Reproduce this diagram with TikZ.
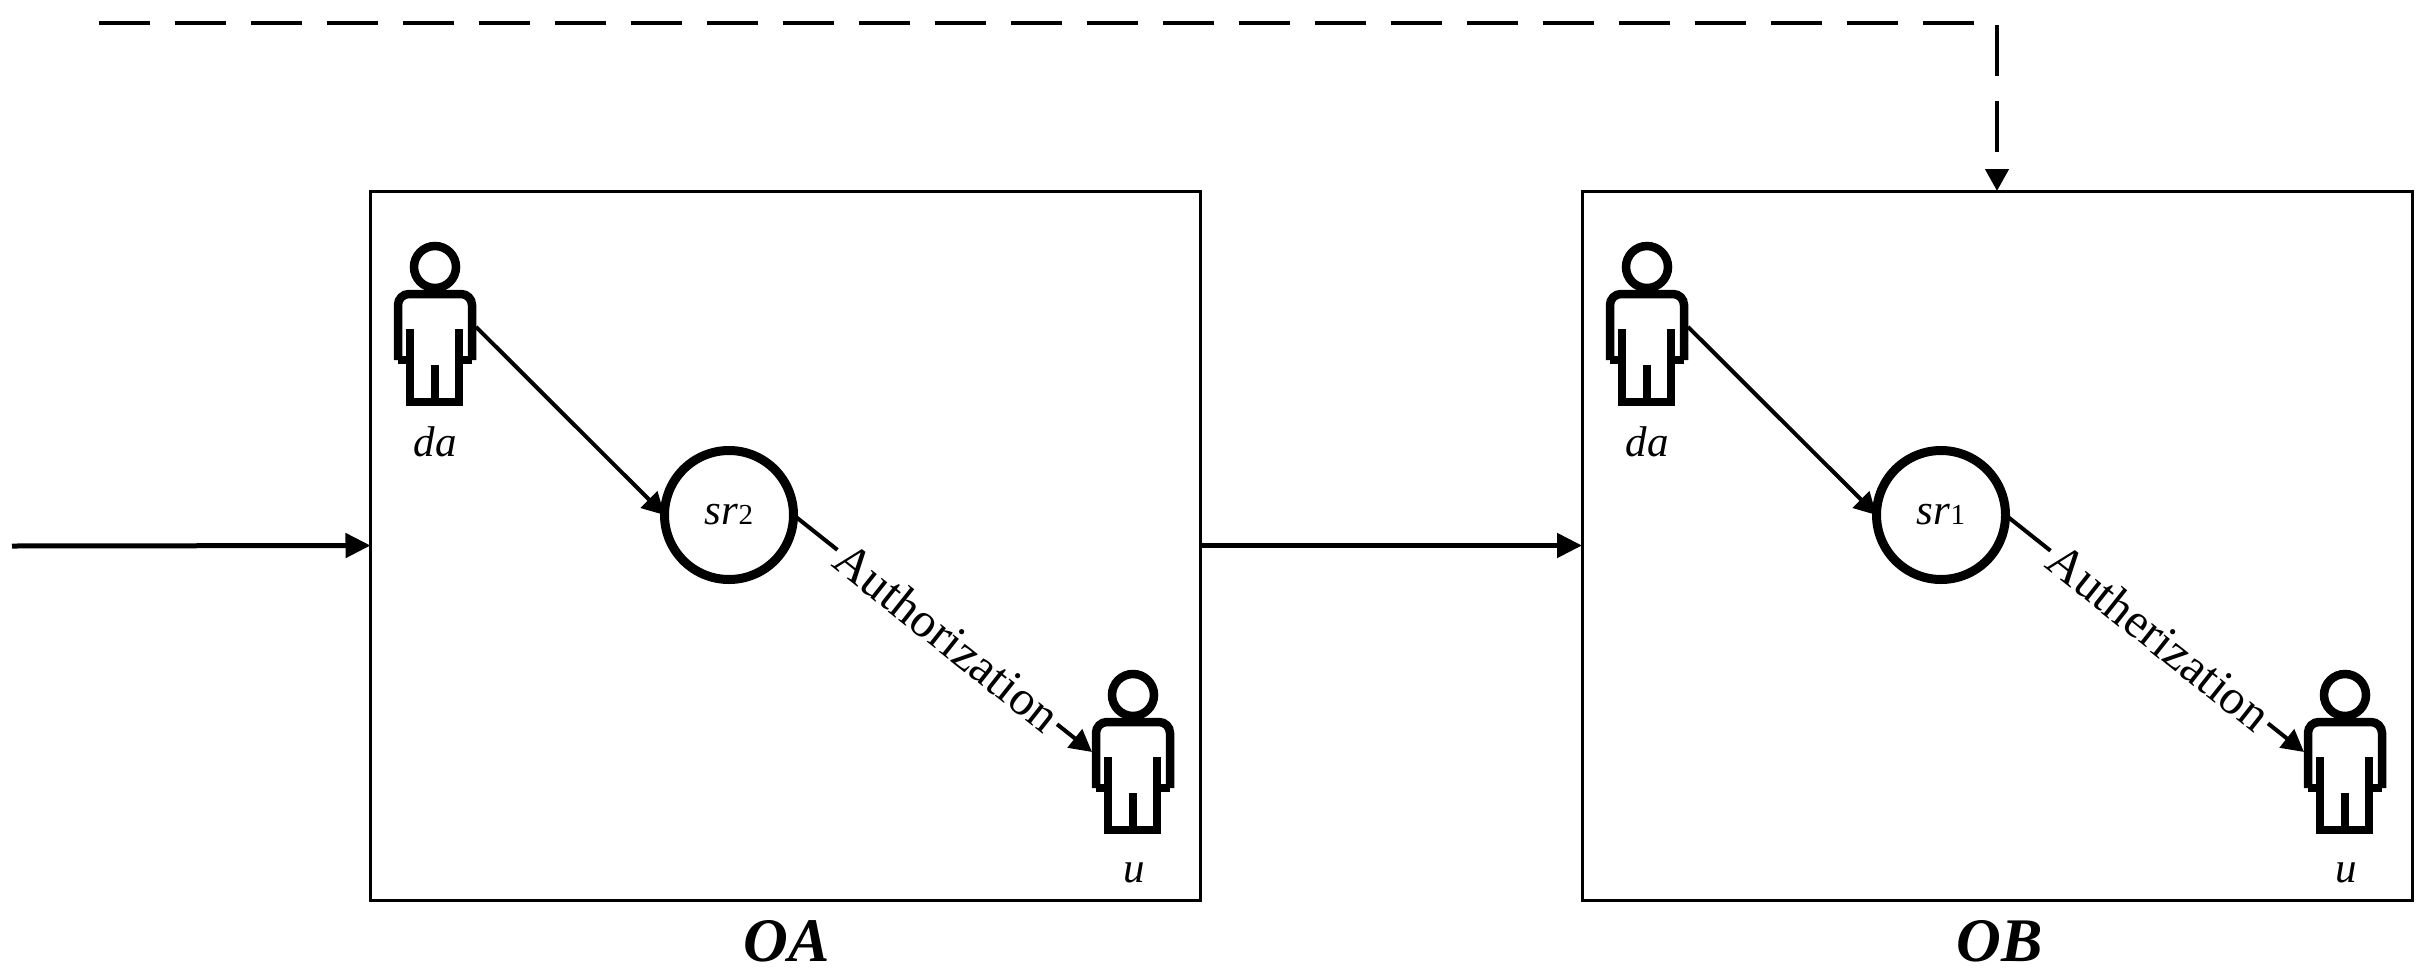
\documentclass[tikz,border=0pt]{standalone}
\usepackage{fontspec}
\setmainfont{Liberation Serif}
\usetikzlibrary{arrows.meta,shapes.geometric}
\tikzset{
  x=1pt,y=-1pt,
  orgbox/.style={draw,line width=3pt,minimum width=830pt,minimum height=709pt,inner sep=0pt,outer sep=0pt},
  rolecircle/.style={circle,draw,line width=9pt,minimum size=129pt,inner sep=0pt,outer sep=0pt,font=\fontsize{43}{43}\selectfont},
  personbox/.style={minimum width=82pt,minimum height=164pt,inner sep=0pt,outer sep=0pt},
  tiplabel/.style={inner sep=0pt,font=\fontsize{43}{43}\selectfont\itshape},
  orglabel/.style={inner sep=0pt,font=\fontsize{62}{62}\selectfont\bfseries\itshape},
  authlabel/.style={fill=white,inner sep=4pt,sloped,font=\fontsize{49}{49}\selectfont},
  thinarrow/.style={line width=4pt,-{Triangle[length=22pt,width=23pt]}},
  thickarrow/.style={line width=5pt,-{Triangle[length=25pt,width=24pt]}},
  dasharrow/.style={line width=4.5pt,dash pattern=on 51pt off 25pt,-{Triangle[length=22pt,width=23pt]}},
  pics/person/.style={code={
    \draw[line width=8.5pt] (0,-57) circle (21);
    \draw[line width=8.5pt,rounded corners=11pt,fill=none] (-37,36) -- (-37,-30) -- (37,-30) -- (37,36);
    \draw[line width=8.5pt] (-37,36) -- (-25,36) (37,36) -- (24,36);
    \draw[line width=8.5pt] (-25,5) -- (-25,78) -- (24,78) -- (24,5) (0,41) -- (0,78);
  }}
}
\begin{document}
\begin{tikzpicture}
\useasboundingbox (0,0) rectangle (2431,972);
\fill[white] (0,0) rectangle (2431,972);

\node[orgbox] (A) at (785.5,545.5) {};
\node[orgbox] (B) at (1997,545.5) {};
\node[orglabel] (OA) at (787,941) {OA};
\node[orglabel] (OB) at (2000,941) {OB};

\node[personbox] (daA) at (435,324) {};
\node[personbox] (uA) at (1133,752) {};
\node[personbox] (daB) at (1647,324) {};
\node[personbox] (uB) at (2345,752) {};
\pic at (daA.center) {person};
\pic at (uA.center) {person};
\pic at (daB.center) {person};
\pic at (uB.center) {person};

\node[tiplabel] (daAt) at (435,442) {da};
\node[tiplabel] (uAt) at (1134,873) {u};
\node[tiplabel] (daBt) at (1647,442) {da};
\node[tiplabel] (uBt) at (2346,873) {u};

\node[rolecircle] (srA) at (729,515) {\textit{sr}\fontsize{29}{29}\selectfont 2};
\node[rolecircle] (srB) at (1941,515) {\textit{sr}\fontsize{29}{29}\selectfont 1};

\draw[thinarrow] (daA.-4) -- (srA.west);
\draw[thinarrow] (daB.-4) -- (srB.west);
\draw[thinarrow] (srA.east) -- node[authlabel,pos=0.515] (authA) {Authorization} (uA.west);
\draw[thinarrow] (srB.east) -- node[authlabel,pos=0.515] (authB) {Autherization} (uB.west);

\coordinate (inL) at (12,546);
\coordinate (dashL) at (99,23);
\draw[thickarrow] (inL) -- (A.west);
\draw[thickarrow] (A.east) -- (B.west);
\draw[dasharrow] (dashL) -| (B.north);
\end{tikzpicture}
\end{document}
